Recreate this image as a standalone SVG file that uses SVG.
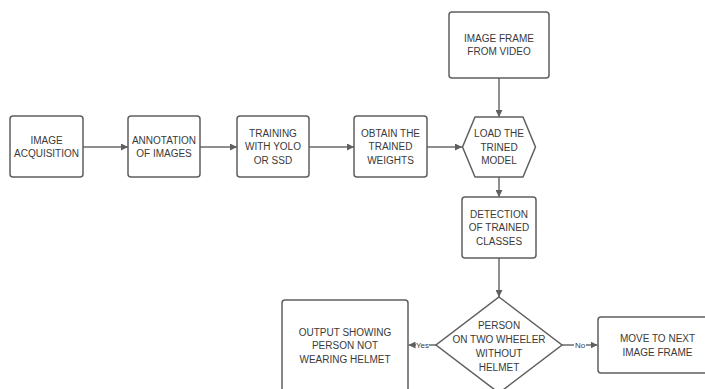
<svg xmlns="http://www.w3.org/2000/svg" width="705" height="389" viewBox="0 0 705 389">
<defs>
<style>
.box{fill:#fff;stroke:#5f5f5f;stroke-width:1.5}
.t{font-family:"Liberation Sans",Arial,sans-serif;font-size:10px;fill:#3a3a3a;text-anchor:middle;dominant-baseline:central}
.lbl{font-family:"Liberation Sans",Arial,sans-serif;font-size:8px;fill:#3a3a3a;text-anchor:middle;dominant-baseline:central}
.c{fill:none;stroke:#6a6a6a;stroke-width:1.5}
</style>
<marker id="ah" viewBox="0 0 10 10" refX="10" refY="5" markerWidth="7" markerHeight="7" markerUnits="userSpaceOnUse" orient="auto">
<path d="M0,0 L10,5 L0,10 z" fill="#5f5f5f"/>
</marker>
</defs>
<rect width="705" height="389" fill="#fff"/>
<g id="connectors">
<line class="c" x1="83" y1="147" x2="128" y2="147" marker-end="url(#ah)"/>
<line class="c" x1="200" y1="147" x2="237" y2="147" marker-end="url(#ah)"/>
<line class="c" x1="309" y1="147" x2="354" y2="147" marker-end="url(#ah)"/>
<line class="c" x1="427" y1="147" x2="462" y2="147" marker-end="url(#ah)"/>
<line class="c" x1="499" y1="78" x2="499" y2="117" marker-end="url(#ah)"/>
<line class="c" x1="499" y1="177" x2="499" y2="197" marker-end="url(#ah)"/>
<line class="c" x1="499" y1="258" x2="499" y2="297" marker-end="url(#ah)"/>
<line class="c" x1="436" y1="345" x2="408.5" y2="345" marker-end="url(#ah)"/>
<rect x="416" y="340" width="13" height="10" fill="#fff"/>
<text class="lbl" x="422.5" y="345">Yes</text>
<line class="c" x1="562" y1="345" x2="597.5" y2="345" marker-end="url(#ah)"/>
<rect x="574" y="340" width="12" height="10" fill="#fff"/>
<text class="lbl" x="580" y="345">No</text>
</g>
<g id="image-acquisition">
<rect class="box" x="10" y="116" width="73" height="61" rx="3"/>
<text class="t" x="46.5" y="140">IMAGE</text>
<text class="t" x="46.5" y="153.5">ACQUISITION</text>
</g>
<g id="annotation">
<rect class="box" x="128" y="116" width="72" height="61" rx="3"/>
<text class="t" x="164" y="140">ANNOTATION</text>
<text class="t" x="164" y="153.5">OF IMAGES</text>
</g>
<g id="training">
<rect class="box" x="237" y="116" width="72" height="61" rx="3"/>
<text class="t" x="273" y="133">TRAINING</text>
<text class="t" x="273" y="146.5">WITH YOLO</text>
<text class="t" x="273" y="160">OR SSD</text>
</g>
<g id="obtain">
<rect class="box" x="354" y="116" width="73" height="61" rx="3"/>
<text class="t" x="390.5" y="133">OBTAIN THE</text>
<text class="t" x="390.5" y="146.5">TRAINED</text>
<text class="t" x="390.5" y="160">WEIGHTS</text>
</g>
<g id="image-frame">
<rect class="box" x="449" y="12" width="100" height="66" rx="3"/>
<text class="t" x="499" y="38">IMAGE FRAME</text>
<text class="t" x="499" y="51.5">FROM VIDEO</text>
</g>
<g id="load-model">
<path class="box" d="M475,117 L523,117 L535.5,147 L523,177 L475,177 L462.5,147 Z" stroke-linejoin="round"/>
<text class="t" x="499" y="133.5">LOAD THE</text>
<text class="t" x="499" y="147">TRINED</text>
<text class="t" x="499" y="160.5">MODEL</text>
</g>
<g id="detection">
<rect class="box" x="462" y="197" width="74" height="61" rx="3"/>
<text class="t" x="499" y="214">DETECTION</text>
<text class="t" x="499" y="227.5">OF TRAINED</text>
<text class="t" x="499" y="241">CLASSES</text>
</g>
<g id="decision">
<path class="box" d="M499,297 L562,345 L499,393 L436,345 Z"/>
<text class="t" x="499" y="325">PERSON</text>
<text class="t" x="499" y="339">ON TWO WHEELER</text>
<text class="t" x="499" y="353">WITHOUT</text>
<text class="t" x="499" y="367">HELMET</text>
</g>
<g id="output">
<rect class="box" x="282" y="300" width="126" height="92" rx="3"/>
<text class="t" x="345" y="332">OUTPUT SHOWING</text>
<text class="t" x="345" y="345.5">PERSON NOT</text>
<text class="t" x="345" y="359">WEARING HELMET</text>
</g>
<g id="move-next">
<rect class="box" x="598" y="317" width="119" height="56" rx="3"/>
<text class="t" x="657.5" y="338.5">MOVE TO NEXT</text>
<text class="t" x="657.5" y="352">IMAGE FRAME</text>
</g>
</svg>
